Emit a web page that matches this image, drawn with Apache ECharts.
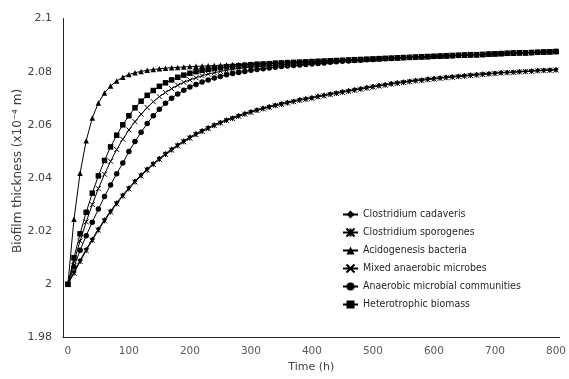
<!DOCTYPE html>
<html>
<head>
<meta charset="utf-8">
<script src="https://cdn.jsdelivr.net/npm/echarts@6/dist/echarts.min.js"></script>
<style>html,body{margin:0;padding:0;background:#fff;}#c{width:569px;height:379px;}</style>
</head>
<body>
<div id="c"></div>
<script>
var seriesNames = ['Clostridium cadaveris','Clostridium sporogenes','Acidogenesis bacteria','Mixed anaerobic microbes','Anaerobic microbial communities','Heterotrophic biomass'];
var times = [0,10,20,30,40,50,60,70,80,90,100,110,120,130,140,150,160,170,180,190,200,210,220,230,240,250,260,270,280,290,300,310,320,330,340,350,360,370,380,390,400,410,420,430,440,450,460,470,480,490,500,510,520,530,540,550,560,570,580,590,600,610,620,630,640,650,660,670,680,690,700,710,720,730,740,750,760,770,780,790,800];
var xTickLabels = [0,100,200,300,400,500,600,700,800];
var cadaveris = [2.0000,2.0045,2.0090,2.0131,2.0170,2.0208,2.0243,2.0276,2.0307,2.0336,
 2.0363,2.0389,2.0412,2.0434,2.0455,2.0474,2.0492,2.0509,2.0525,2.0540,
 2.0554,2.0567,2.0579,2.0590,2.0600,2.0610,2.0619,2.0627,2.0635,2.0643,
 2.0650,2.0657,2.0663,2.0669,2.0675,2.0680,2.0685,2.0690,2.0695,2.0699,
 2.0703,2.0708,2.0712,2.0717,2.0721,2.0725,2.0729,2.0733,2.0737,2.0741,
 2.0745,2.0749,2.0752,2.0756,2.0759,2.0762,2.0765,2.0768,2.0770,2.0773,
 2.0775,2.0777,2.0780,2.0782,2.0784,2.0786,2.0788,2.0790,2.0792,2.0793,
 2.0795,2.0797,2.0798,2.0799,2.0801,2.0802,2.0803,2.0805,2.0806,2.0807,
 2.0808];
var sporogenes = [2.0000,2.0042,2.0086,2.0127,2.0166,2.0204,2.0239,2.0272,2.0303,2.0332,
 2.0359,2.0385,2.0408,2.0430,2.0451,2.0470,2.0488,2.0505,2.0521,2.0536,
 2.0550,2.0563,2.0575,2.0586,2.0597,2.0607,2.0616,2.0624,2.0632,2.0640,
 2.0647,2.0654,2.0660,2.0666,2.0672,2.0677,2.0682,2.0687,2.0692,2.0696,
 2.0700,2.0705,2.0709,2.0714,2.0718,2.0722,2.0726,2.0730,2.0734,2.0738,
 2.0742,2.0746,2.0749,2.0753,2.0756,2.0759,2.0762,2.0765,2.0767,2.0770,
 2.0772,2.0775,2.0777,2.0779,2.0781,2.0783,2.0785,2.0787,2.0789,2.0791,
 2.0793,2.0795,2.0796,2.0797,2.0799,2.0800,2.0801,2.0803,2.0804,2.0805,
 2.0806];
var acidogenesis = [2.0000,2.0245,2.0418,2.0540,2.0626,2.0682,2.0720,2.0746,2.0765,2.0779,
 2.0789,2.0796,2.0801,2.0805,2.0808,2.0811,2.0813,2.0815,2.0816,2.0818,
 2.0819,2.0820,2.0821,2.0822,2.0823,2.0824,2.0825,2.0826,2.0827,2.0828,
 2.0829,2.0830,2.0831,2.0832,2.0833,2.0834,2.0835,2.0836,2.0837,2.0838,
 2.0839,2.0840,2.0841,2.0842,2.0843,2.0844,2.0845,2.0846,2.0847,2.0848,
 2.0849,2.0850,2.0851,2.0852,2.0853,2.0854,2.0855,2.0856,2.0857,2.0857,
 2.0858,2.0859,2.0860,2.0861,2.0862,2.0863,2.0864,2.0864,2.0865,2.0866,
 2.0867,2.0868,2.0869,2.0870,2.0871,2.0871,2.0872,2.0873,2.0874,2.0875,
 2.0876];
var mixed = [2.0000,2.0086,2.0163,2.0235,2.0300,2.0360,2.0414,2.0463,2.0507,2.0546,
 2.0581,2.0612,2.0640,2.0665,2.0687,2.0706,2.0722,2.0736,2.0749,2.0760,
 2.0769,2.0777,2.0785,2.0791,2.0796,2.0801,2.0805,2.0809,2.0812,2.0814,
 2.0816,2.0818,2.0820,2.0822,2.0824,2.0826,2.0828,2.0830,2.0832,2.0834,
 2.0836,2.0837,2.0838,2.0840,2.0841,2.0842,2.0843,2.0844,2.0845,2.0846,
 2.0847,2.0848,2.0849,2.0850,2.0851,2.0852,2.0853,2.0854,2.0855,2.0856,
 2.0857,2.0858,2.0859,2.0860,2.0861,2.0862,2.0863,2.0864,2.0865,2.0866,
 2.0867,2.0868,2.0869,2.0870,2.0871,2.0871,2.0872,2.0873,2.0874,2.0875,
 2.0876];
var communities = [2.0000,2.0066,2.0128,2.0183,2.0234,2.0283,2.0330,2.0374,2.0416,2.0456,
 2.0500,2.0537,2.0572,2.0605,2.0634,2.0659,2.0681,2.0700,2.0716,2.0730,
 2.0742,2.0752,2.0761,2.0769,2.0776,2.0782,2.0788,2.0793,2.0797,2.0801,
 2.0805,2.0808,2.0811,2.0814,2.0817,2.0819,2.0821,2.0823,2.0825,2.0827,
 2.0829,2.0831,2.0833,2.0835,2.0837,2.0839,2.0840,2.0842,2.0843,2.0845,
 2.0846,2.0848,2.0849,2.0850,2.0851,2.0852,2.0853,2.0854,2.0855,2.0856,
 2.0857,2.0858,2.0859,2.0860,2.0861,2.0862,2.0863,2.0864,2.0865,2.0866,
 2.0867,2.0868,2.0869,2.0870,2.0871,2.0871,2.0872,2.0873,2.0874,2.0875,
 2.0876];
var heterotrophic = [2.0000,2.0100,2.0190,2.0271,2.0343,2.0408,2.0466,2.0517,2.0561,2.0600,
 2.0634,2.0664,2.0689,2.0711,2.0729,2.0745,2.0758,2.0769,2.0779,2.0787,
 2.0794,2.0800,2.0805,2.0809,2.0812,2.0815,2.0818,2.0820,2.0822,2.0824,
 2.0826,2.0828,2.0829,2.0830,2.0832,2.0833,2.0834,2.0835,2.0836,2.0837,
 2.0838,2.0839,2.0840,2.0841,2.0842,2.0843,2.0844,2.0845,2.0846,2.0847,
 2.0848,2.0849,2.0850,2.0851,2.0852,2.0853,2.0854,2.0855,2.0856,2.0857,
 2.0858,2.0859,2.0860,2.0861,2.0862,2.0863,2.0864,2.0864,2.0865,2.0866,
 2.0867,2.0868,2.0869,2.0870,2.0871,2.0871,2.0872,2.0873,2.0874,2.0875,
 2.0876];

var allValues = [cadaveris, sporogenes, acidogenesis, mixed, communities, heterotrophic];
var FONT = 'DejaVu Sans';
var LEGEND_FONT = '"DejaVu Sans Condensed", "DejaVu Sans"';
var symbols = [
  {symbol:'diamond', size:5, stroke:false},
  {symbol:'path://M0,0L10,10M10,0L0,10M5,0L5,10', size:5, stroke:true},
  {symbol:'triangle', size:5.5, stroke:false},
  {symbol:'path://M0,0L10,10M10,0L0,10', size:5, stroke:true},
  {symbol:'circle', size:5.5, stroke:false},
  {symbol:'rect', size:5.5, stroke:false}
];

function pairs(vals){ return times.map(function(t,i){ return [t, vals[i]]; }); }

var series = seriesNames.map(function(name, k){
  var s = symbols[k];
  return {
    name: name,
    type: 'line',
    data: pairs(allValues[k]),
    symbol: s.symbol,
    symbolSize: s.size,
    showAllSymbol: true,
    showSymbol: true,
    lineStyle: {color:'#000', width:1},
    itemStyle: s.stroke ? {color:'#000', borderColor:'#000', borderWidth:1} : {color:'#000', borderWidth:0},
    emphasis: {disabled:true},
    animation: false
  };
});

var chart = echarts.init(document.getElementById('c'), null, {renderer:'canvas'});
chart.setOption({
  animation: false,
  backgroundColor: '#fff',
  grid: {left:63, right:7, top:18.5, bottom:41.5, containLabel:false},
  legend: {
    orient:'vertical', left:337, top:204,
    itemWidth:15, itemHeight:10, itemGap:7,
    data: seriesNames,
    textStyle:{fontFamily:LEGEND_FONT, fontSize:10.5, color:'#262626'}
  },
  xAxis: {
    type:'value', min:-8, max:806,
    name:'Time (h)', nameLocation:'middle', nameGap:19,
    nameTextStyle:{fontFamily:FONT, fontSize:11, color:'#404040'},
    axisLine:{show:true, onZero:false, lineStyle:{color:'#262626', width:1}},
    axisTick:{show:false},
    splitLine:{show:false},
    axisLabel:{customValues:xTickLabels, fontFamily:FONT, fontSize:10.5, color:'#595959', margin:8}
  },
  yAxis: {
    type:'value', min:1.98, max:2.1, interval:0.02,
    axisLine:{show:true, onZero:false, lineStyle:{color:'#262626', width:1}},
    axisTick:{show:false},
    splitLine:{show:false},
    axisLabel:{fontFamily:FONT, fontSize:11, color:'#404040', margin:11}
  },
  graphic: [{
    type:'text', x:18, y:171, rotation:Math.PI/2,
    style:{text:'Biofilm thickness (x10⁻⁴ m)', fontFamily:FONT, fontSize:12, fill:'#404040', textAlign:'center', textVerticalAlign:'middle'}
  }],
  series: series
});
</script>
</body>
</html>
